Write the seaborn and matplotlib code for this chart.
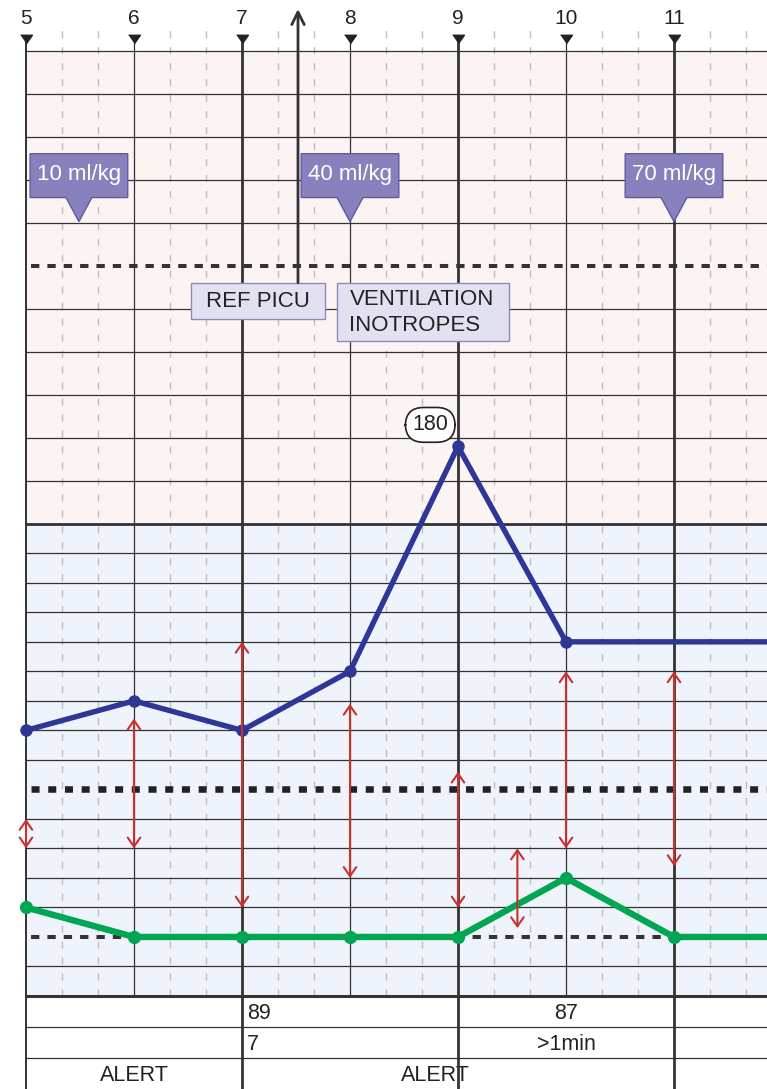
import numpy as np
import matplotlib
matplotlib.use("Agg")
import matplotlib.pyplot as plt
import matplotlib.transforms as mtransforms
from matplotlib.patches import Polygon, Rectangle
import seaborn as sns

# ---------------- data ----------------
hours = [5, 6, 7, 8, 9, 10, 11, 12]
heart_rate = [90, 100, 90, 110, 178, 120, 120, 120]
resp_rate = [30, 20, 20, 20, 20, 40, 20, 20]

bp_times = [5, 6, 7, 8, 9, 9.55, 10, 11]
bp_high = [60, 94, 120, 99, 76, 50, 110, 110]
bp_low = [50, 50, 30, 40, 30, 23, 50, 44]

bolus_times = [5.49, 8.0, 11.0]
bolus_labels = ["10 ml/kg", "40 ml/kg", "70 ml/kg"]

hour_ticks = [5, 6, 7, 8, 9, 10, 11]
tick_labels = ["5", "6", "7", "8", "9", "10", "11"]

peak_label = "180"
threshold_upper = 220
threshold_mid = 70
threshold_low = 20

table_row1 = [(7.046, "89", "left"), (10.0, "87", "center")]
table_row2 = [(7.046, "7", "left"), (10.0, ">1min", "center")]
table_row3 = [(6.0, "ALERT", "center"), (8.79, "ALERT", "center")]

# ---------------- style ----------------
sns.set_style("white")
plt.rcParams["font.family"] = ["Liberation Sans", "DejaVu Sans"]

W, H, DPI = 767, 1089, 100
fig = plt.figure(figsize=(W / DPI, H / DPI), dpi=DPI)
fig.patch.set_facecolor("white")

ax = fig.add_axes([26 / W, 93 / H, 741 / W, 945 / H])
ax2 = fig.add_axes([26 / W, 0, 741 / W, 93 / H])

XMIN, XMAX = 5, 5 + 741 / 108
K = 43 / 29.53


def fwd(v):
    v = np.asarray(v, dtype=float)
    return np.where(v <= 160, v, 160 + (v - 160) * K)


def inv(u):
    u = np.asarray(u, dtype=float)
    return np.where(u <= 160, u, 160 + (u - 160) / K)


ax.set_yscale("function", functions=(fwd, inv))
ax.set_xlim(XMIN, XMAX)
ax.set_ylim(0, 270)


def fy(py):
    return 1 - py / H


bt = mtransforms.blended_transform_factory(ax.transData, fig.transFigure)

GRID = "#333333"
# backgrounds
ax.axhspan(0, 160, color="#EFF3FB", zorder=0, lw=0)
ax.axhspan(160, 270, color="#FCF4F3", zorder=0, lw=0)

# minor dashed verticals (extend above plot)
for h in range(5, 12):
    for f in (1 / 3, 2 / 3):
        x = h + f
        if x < XMAX:
            ax.plot([x, x], [fy(996), fy(27)], transform=bt, clip_on=False,
                    color="#BDBDBD", lw=1.0, dashes=(5, 6.5), zorder=1)

# horizontal grid
for v in list(range(10, 160, 10)) + list(range(170, 280, 10)):
    if v in (threshold_low, threshold_mid, threshold_upper):
        continue
    ax.axhline(v, color=GRID, lw=0.9, zorder=1.5, clip_on=False)
ax.axhline(160, color=GRID, lw=2.0, zorder=1.6)
ax.axhline(0, color=GRID, lw=2.2, zorder=1.6, clip_on=False)

# major verticals
for h in hour_ticks:
    lw = 2.0 if h in (7, 9, 11) else (1.4 if h == 5 else 0.9)
    ax.plot([h, h], [fy(996), fy(40)], transform=bt, clip_on=False,
            color=GRID, lw=lw, zorder=2)

# triangles and hour numbers above
tri = [(-1, 0.72), (1, 0.72), (0, -0.72)]
ax.plot(hour_ticks, [fy(39)] * len(hour_ticks), transform=bt, clip_on=False,
        ls="none", marker=tri, ms=8.5, color="#222222", zorder=3)
for h, lab in zip(hour_ticks, tick_labels):
    ax.text(h, fy(19), lab, transform=bt, ha="center", va="center",
            fontsize=15, color="#222222", clip_on=False)

# threshold lines
ax.axhline(threshold_upper, color="#333333", lw=2.9,
           ls=(2.81, (2.07, 1.99)), zorder=2.5)
ax.axhline(threshold_low, color="#333333", lw=2.9,
           ls=(2.81, (2.07, 1.99)), zorder=2.5)
ax.axhline(threshold_mid, color="#222222", lw=4.7,
           ls=(1.79, (1.23, 1.33)), zorder=2.5)

# lines
sns.lineplot(x=hours, y=heart_rate, ax=ax, color="#2E3795", lw=3.9,
             marker="o", markersize=9, markeredgewidth=0, sort=False,
             markevery=[0, 1, 2, 3, 4, 5], zorder=4, clip_on=False)
sns.lineplot(x=hours, y=resp_rate, ax=ax, color="#00A651", lw=4.6,
             marker="o", markersize=9.5, markeredgewidth=0, sort=False,
             zorder=4, clip_on=False)

# blood pressure arrows
for t, hi, lo in zip(bp_times, bp_high, bp_low):
    ax.annotate("", xy=(t, hi), xytext=(t, lo),
                arrowprops=dict(arrowstyle="<->,head_length=0.65,head_width=0.45",
                                color="#C8312C", lw=1.5, shrinkA=0, shrinkB=0),
                zorder=4.5, annotation_clip=False)

# bolus callouts
for t, lab in zip(bolus_times, bolus_labels):
    w, pw = 0.452, 0.12
    ytop, ybot, ytip = 246.1, 235.9, 230.3
    verts = [(t - w, ybot), (t - pw, ybot), (t, ytip), (t + pw, ybot),
             (t + w, ybot), (t + w, ytop), (t - w, ytop)]
    ax.add_patch(Polygon(verts, closed=True, facecolor="#8782BE",
                         edgecolor="#5F5B9E", lw=1.0, zorder=5))
    ax.text(t, 241.2, lab, ha="center", va="center", color="white",
            fontsize=16, zorder=6)

# REF PICU / VENTILATION boxes
ax.add_patch(Rectangle((6.528, 207.7), 7.769 - 6.528, 216.1 - 207.7,
                       facecolor="#E2E1F2", edgecolor="#8C8BB8", lw=1.0,
                       zorder=5))
ax.text(7.148, 211.8, "REF PICU", ha="center", va="center", fontsize=16,
        color="#222222", zorder=6)
ax.add_patch(Rectangle((7.880, 202.6), 9.472 - 7.880, 216.1 - 202.6,
                       facecolor="#E2E1F2", edgecolor="#8C8BB8", lw=1.0,
                       zorder=5))
ax.text(7.995, 209.2, "VENTILATION\nINOTROPES", ha="left", va="center",
        fontsize=16, color="#222222", linespacing=1.3, zorder=6)

# referral arrow
ax.annotate("", xy=(7.5185, fy(9)), xycoords=bt,
            xytext=(7.5185, 216.1), textcoords="data",
            arrowprops=dict(arrowstyle="->,head_length=0.9,head_width=0.45",
                            color="#333333", lw=2.0, shrinkA=0, shrinkB=0),
            annotation_clip=False, zorder=5)

# peak label
ax.annotate(peak_label, xy=(9, 178), xytext=(-20, 15.5),
            textcoords="offset points", ha="center", va="center",
            fontsize=15.5, color="#222222", zorder=6,
            bbox=dict(boxstyle="round,pad=0.32,rounding_size=0.85",
                      facecolor="white", edgecolor="#222222", lw=1.2))

ax.set_xlim(XMIN, XMAX)
ax.set_ylim(0, 270)
ax.set_xticks([])
ax.set_yticks([])
ax.set_xlabel("")
ax.set_ylabel("")
for s in ax.spines.values():
    s.set_visible(False)

# ---------------- table ----------------
ax2.set_xlim(XMIN, XMAX)
ax2.set_ylim(3, 0)
ax2.patch.set_alpha(0)
for y in (1, 2):
    ax2.axhline(y, color=GRID, lw=0.9)
ax2.vlines([5, 7, 9, 11], 0, 3, colors=GRID,
           linewidths=[1.4, 2.0, 2.0, 2.0], zorder=5, clip_on=False)
for row, items in enumerate([table_row1, table_row2, table_row3]):
    for x, txt, ha in items:
        ax2.text(x, row + 0.55, txt, ha=ha, va="center", fontsize=15.5,
                 color="#222222", zorder=3)
ax2.set_xticks([])
ax2.set_yticks([])
for s in ax2.spines.values():
    s.set_visible(False)

fig.savefig("out.png", dpi=DPI)
